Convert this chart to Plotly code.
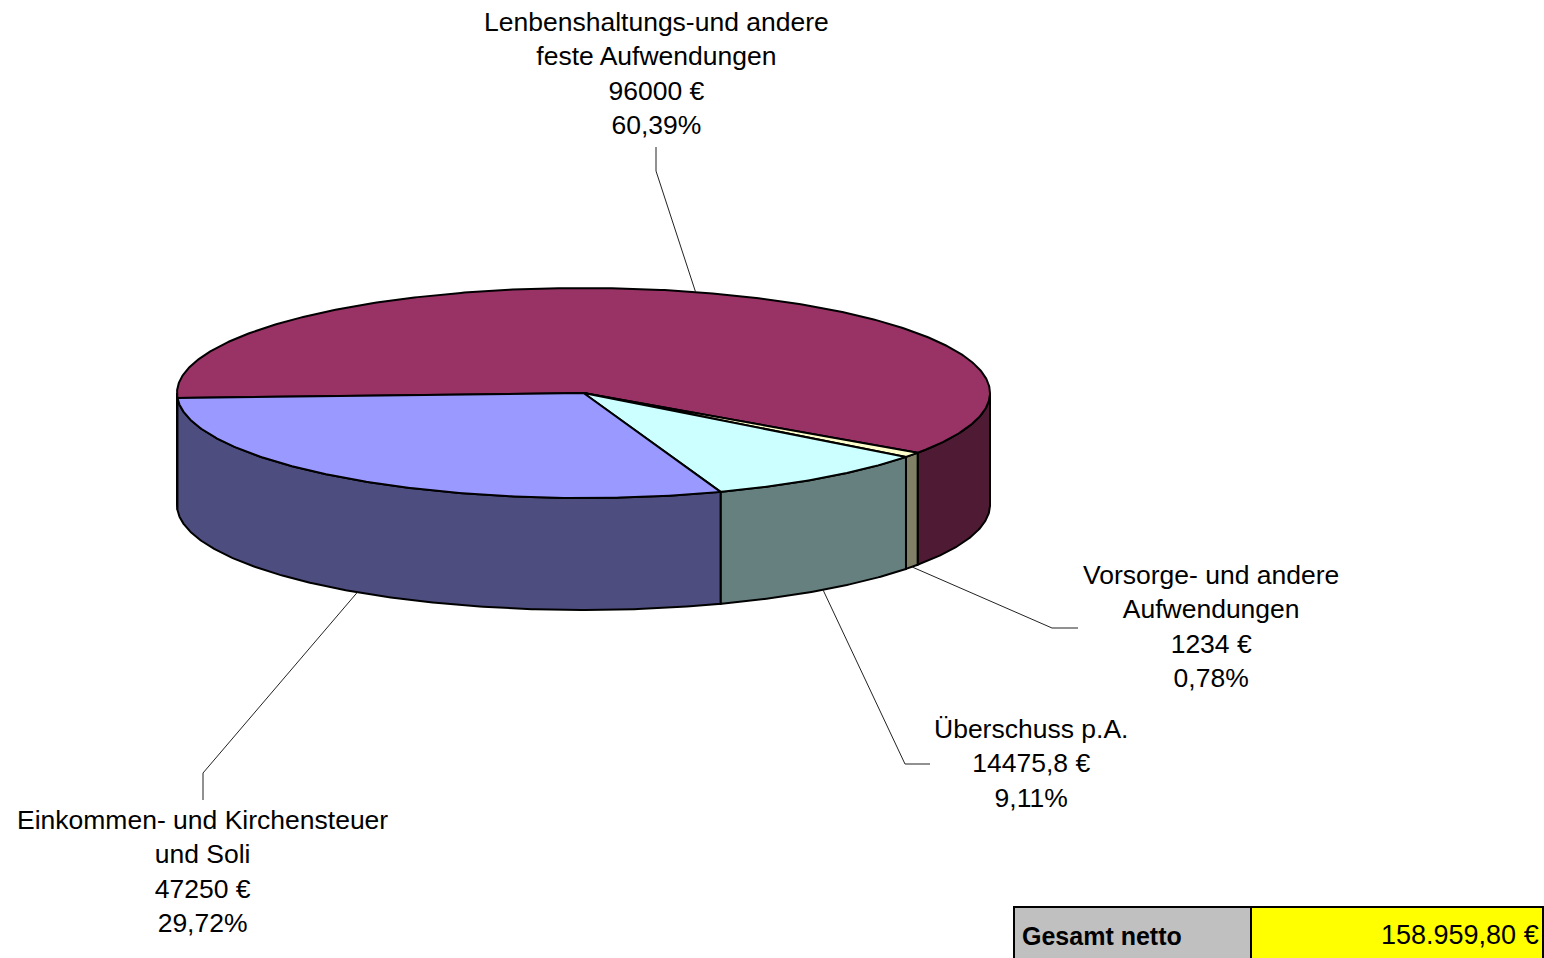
import math
import plotly.graph_objects as go

# ---------------- data ----------------
categories = [
    "Lenbenshaltungs-und andere<br>feste Aufwendungen",
    "Vorsorge- und andere<br>Aufwendungen",
    "Überschuss p.A.",
    "Einkommen- und Kirchensteuer<br>und Soli",
]
values = [96000, 1234, 14475.8, 47250]
top_colors = ["#993366", "#FFFFCC", "#CCFFFF", "#9999FF"]
side_colors = ["#4F1A33", "#808066", "#668080", "#4D4D80"]
table_label = "Gesamt netto"

# ---------------- geometry (layout) ----------------
W, H = 1544, 958
CX, CY = 583.5, 393.0
RX, RY = 406.5, 105.0
DEPTH = 112.0
START = 182.7  # degrees, slices run clockwise on screen (decreasing angle)

total = sum(values)
fracs = [v / total for v in values]


def pt(phi, dz=0.0):
    r = math.radians(phi)
    return CX + RX * math.cos(r), CY - RY * math.sin(r) + dz


def arc(a0, a1, dz=0.0, n=None):
    if n is None:
        n = max(4, int(abs(a1 - a0) / 0.5))
    xs, ys = [], []
    for i in range(n + 1):
        p = a0 + (a1 - a0) * i / n
        x, y = pt(p, dz)
        xs.append(x)
        ys.append(y)
    return xs, ys


fig = go.Figure()

# slice angle ranges
ranges = []
a = START
for f in fracs:
    b = a - f * 360.0
    ranges.append((a, b))
    a = b

# side walls (front half only)
for (a0, a1), col in zip(ranges, side_colors):
    lo, hi = min(a0, a1), max(a0, a1)
    for k in range(-2, 3):
        flo, fhi = k * 360 - 180, k * 360
        s, e = max(lo, flo), min(hi, fhi)
        if e - s > 1e-6:
            tx, ty = arc(e, s)
            bx, by = arc(s, e, DEPTH)
            fig.add_trace(go.Scatter(
                x=tx + bx + [tx[0]], y=ty + by + [ty[0]],
                mode="lines", fill="toself", fillcolor=col,
                line=dict(color="black", width=2),
                hoverinfo="skip", showlegend=False))

# top faces
for (a0, a1), col in zip(ranges, top_colors):
    ax, ay = arc(a0, a1)
    fig.add_trace(go.Scatter(
        x=[CX] + ax + [CX], y=[CY] + ay + [CY],
        mode="lines", fill="toself", fillcolor=col,
        line=dict(color="black", width=2),
        hoverinfo="skip", showlegend=False))

# labels + leader lines (label placement is layout)
label_pos = [(656, 73), (1211, 626), (1031, 763), (202, 871)]
elbows = [
    [(656, 147), (656, 171)],
    [(1078, 628), (1052, 628)],
    [(930, 764), (905, 764)],
    [(203, 800), (203, 773)],
]


def fmt_num(v):
    s = f"{v:g}"
    return s.replace(".", ",")


for i, ((a0, a1), name, v, f) in enumerate(zip(ranges, categories, values, fracs)):
    mid = (a0 + a1) / 2.0
    front = math.sin(math.radians(mid)) < 0
    ax_, ay_ = pt(mid, DEPTH if front else 0.0)
    pts = elbows[i] + [(ax_, ay_)]
    fig.add_trace(go.Scatter(
        x=[p[0] for p in pts], y=[p[1] for p in pts], mode="lines",
        line=dict(color="#222222", width=1), hoverinfo="skip", showlegend=False))
    pct = f"{f * 100:.2f}".replace(".", ",") + "%"
    txt = f"{name}<br>{fmt_num(v)} €<br>{pct}"
    fig.add_annotation(x=label_pos[i][0], y=label_pos[i][1], text=txt,
                       showarrow=False, xanchor="center", yanchor="middle",
                       align="center", font=dict(size=26.5, color="black"))

# table
tot_str = f"{total:,.2f}".replace(",", "X").replace(".", ",").replace("X", ".") + " €"
fig.add_shape(type="rect", x0=1014, x1=1251, y0=907, y1=975,
              fillcolor="#C0C0C0", line=dict(color="black", width=2), layer="above")
fig.add_shape(type="rect", x0=1251, x1=1543, y0=907, y1=975,
              fillcolor="#FFFF00", line=dict(color="black", width=2), layer="above")
fig.add_annotation(x=1020, y=936, text=f"<b>{table_label}</b>", showarrow=False,
                   xanchor="left", yanchor="middle", font=dict(size=25, color="black"))
fig.add_annotation(x=1541, y=935, text=tot_str, showarrow=False,
                   xanchor="right", yanchor="middle", font=dict(size=27, color="black"))

fig.update_layout(
    width=W, height=H,
    margin=dict(l=0, r=0, t=0, b=0),
    paper_bgcolor="white", plot_bgcolor="white",
    font=dict(family="Liberation Sans, Arial, sans-serif"),
    xaxis=dict(range=[0, W], visible=False, fixedrange=True),
    yaxis=dict(range=[H, 0], visible=False, fixedrange=True),
    showlegend=False,
)

fig.write_html("out.html", config={"displayModeBar": False},
               post_script="document.body.style.margin='0';document.body.style.overflow='hidden';")
